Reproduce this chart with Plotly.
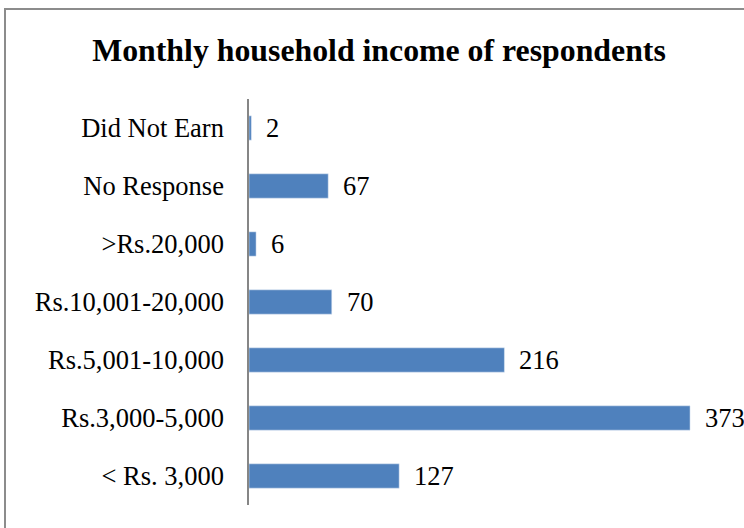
import plotly.graph_objects as go

categories = ["Did Not Earn", "No Response", ">Rs.20,000", "Rs.10,001-20,000",
              "Rs.5,001-10,000", "Rs.3,000-5,000", "< Rs. 3,000"]
values = [2, 67, 6, 70, 216, 373, 127]
title_text = "Monthly household income of respondents"

W, H = 744, 528
ml, mr, mt, mb = 249, 22, 99, 23
pw = W - ml - mr
ph = H - mt - mb
FONT = "Liberation Serif"

fig = go.Figure(go.Bar(
    y=categories, x=values, orientation="h",
    marker=dict(color="#4F81BD"),
    width=0.42,
    hoverinfo="skip",
))

for c, v in zip(categories, values):
    fig.add_annotation(x=v, y=c, text=str(v), showarrow=False,
                       xanchor="left", yanchor="middle", xshift=13,
                       font=dict(family=FONT, size=26.5, color="#000000"))

fig.add_shape(type="rect", xref="paper", yref="paper",
              x0=(5 - ml) / pw, x1=1.2, y0=-0.3, y1=(H - mb - 9) / ph,
              line=dict(color="#8C8C8C", width=2), fillcolor="rgba(0,0,0,0)", layer="below")

fig.update_layout(
    width=W, height=H,
    margin=dict(l=ml, r=mr, t=mt, b=mb),
    paper_bgcolor="white", plot_bgcolor="white",
    showlegend=False,
    title=dict(text="<b>" + title_text + "</b>", x=(93 + 665) / 2 / W, xanchor="center",
               y=1 - 50 / H, yanchor="middle", yref="container",
               font=dict(family=FONT, size=31.8, color="#000000")),
    xaxis=dict(range=[0, 400], visible=False, fixedrange=True),
    yaxis=dict(categoryorder="array", categoryarray=categories, autorange="reversed",
               showline=True, linecolor="#868686", linewidth=1.5,
               ticks="", showgrid=False, zeroline=False, ticklabelstandoff=18,
               tickfont=dict(family=FONT, size=26.5, color="#000000")),
)

fig.write_html("out.html", config={"displayModeBar": False},
               post_script="document.body.style.margin='0px';")
